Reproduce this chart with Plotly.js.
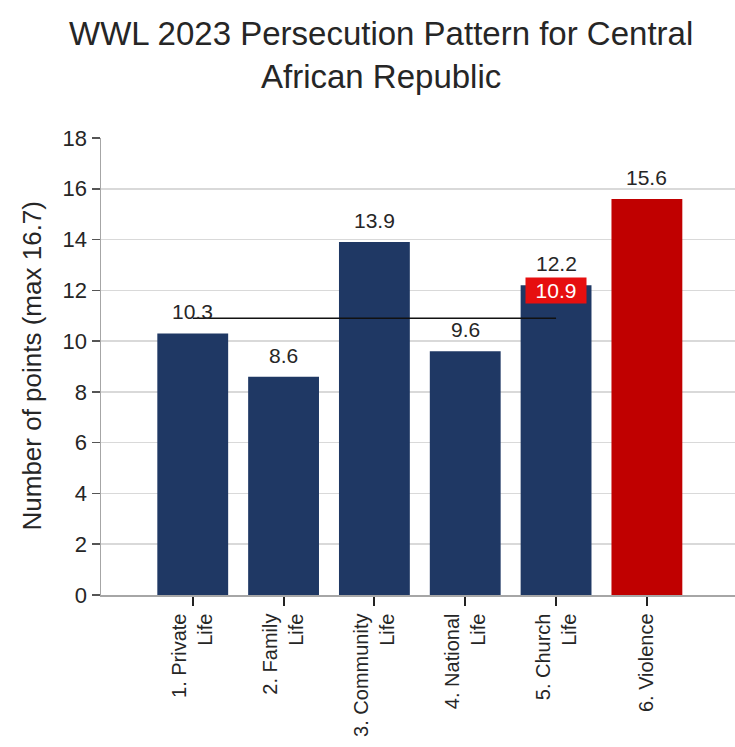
<!DOCTYPE html>
<html>
<head>
<meta charset="utf-8">
<script src="https://cdn.plot.ly/plotly-3.0.1.min.js"></script>
<style>html,body{margin:0;padding:0;background:#fff;}#chart{width:735px;height:747px;}</style>
</head>
<body>
<div id="chart"></div>
<script>
const categories = ["1. Private<br>Life", "2. Family<br>Life", "3. Community<br>Life", "4. National<br>Life", "5. Church<br>Life", "6. Violence"];
const values = [10.3, 8.6, 13.9, 9.6, 12.2, 15.6];
const barColors = ["#1f3864", "#1f3864", "#1f3864", "#1f3864", "#1f3864", "#c00000"];
const averageValue = 10.9;
const averageSpan = [0, 4];
const yTicks = [0, 2, 4, 6, 8, 10, 12, 14, 16, 18];

const FONT = "Liberation Sans, Arial, sans-serif";
const TXT = "#262626";

const L = 101, PW = 634, T = 138, PH = 457;
const px2x = p => (p - L) / PW;
const py2y = p => (T + PH - p) / PH;

const idx = categories.map((c, i) => i);

const bar = {
  type: "bar",
  x: idx,
  y: values,
  marker: {color: barColors, line: {width: 0}},
  hoverinfo: "skip",
  showlegend: false
};

const annotations = values.map((v, i) => ({
  x: i, y: v, xref: "x", yref: "y",
  text: v.toFixed(1),
  showarrow: false,
  yanchor: "bottom",
  yshift: 8,
  font: {family: FONT, size: 21, color: TXT}
}));

annotations.push({
  x: averageSpan[1], y: values[averageSpan[1]], xref: "x", yref: "y",
  text: averageValue.toFixed(1),
  showarrow: false,
  yanchor: "middle",
  yshift: -5,
  bgcolor: "#e60f0f",
  width: 60, height: 25, borderpad: 0,
  font: {family: FONT, size: 21, color: "#ffffff"}
});

annotations.push({
  x: px2x(31), xref: "paper", xanchor: "center",
  y: 0.5, yref: "paper", yanchor: "middle",
  text: "Number of points (max 16.7)",
  textangle: -90,
  showarrow: false,
  font: {family: FONT, size: 26, color: TXT}
});

annotations.push({
  x: px2x(381), xref: "paper", xanchor: "center",
  y: py2y(13), yref: "paper", yanchor: "top",
  text: "WWL 2023 Persecution Pattern for Central<br>African Republic",
  showarrow: false,
  align: "center",
  font: {family: FONT, size: 33, color: TXT}
});

const layout = {
  width: 735,
  height: 747,
  margin: {l: L, r: 0, t: T, b: 747 - T - PH},
  paper_bgcolor: "#ffffff",
  plot_bgcolor: "#ffffff",
  bargap: 0.22,
  xaxis: {
    range: [-1.01, 5.97],
    tickmode: "array",
    tickvals: idx,
    ticktext: categories,
    tickangle: -90,
    ticks: "outside",
    ticklen: 9,
    tickwidth: 2,
    tickcolor: "#222",
    showline: true,
    linecolor: "#a6a6a6",
    linewidth: 1.5,
    showgrid: false,
    zeroline: false,
    tickfont: {family: FONT, size: 20, color: TXT},
    fixedrange: true
  },
  yaxis: {
    range: [0, 18],
    tickmode: "array",
    tickvals: yTicks,
    ticks: "outside",
    ticklen: 8,
    tickwidth: 1.5,
    tickcolor: "#555",
    showline: true,
    linecolor: "#a6a6a6",
    linewidth: 1.5,
    showgrid: true,
    gridcolor: "#d9d9d9",
    gridwidth: 1.5,
    zeroline: false,
    tickfont: {family: FONT, size: 22, color: TXT},
    fixedrange: true
  },
  shapes: [{
    type: "line", xref: "x", yref: "y",
    x0: averageSpan[0], x1: averageSpan[1],
    y0: averageValue, y1: averageValue,
    line: {color: "#111", width: 1.5}
  }],
  annotations: annotations
};

Plotly.newPlot("chart", [bar], layout, {displayModeBar: false, staticPlot: true});
</script>
</body>
</html>
